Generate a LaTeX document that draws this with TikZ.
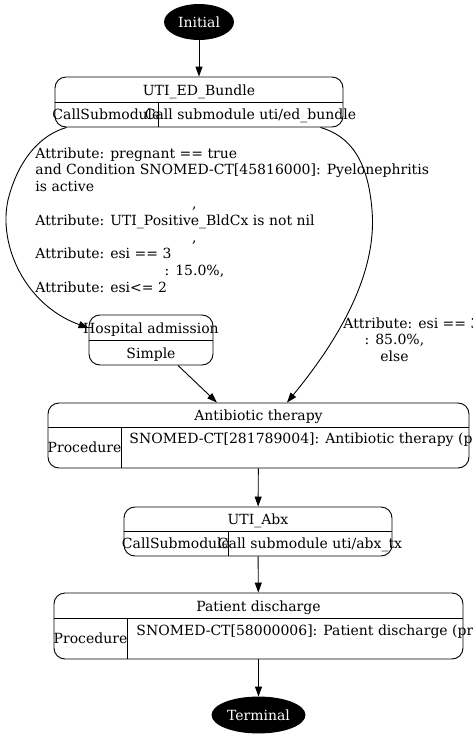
\documentclass[tikz,border=0pt]{standalone}
\usepackage{fontspec}
\setmainfont{DejaVu Serif}
\usetikzlibrary{arrows.meta}
\usetikzlibrary{shapes.geometric}

\tikzset{
  recbox/.style={draw, rounded corners=11pt, inner sep=0pt},
  endpt/.style={ellipse, draw, fill=black, text=white, inner sep=0pt},
  txt/.style={inner sep=0pt},
}

\begin{document}
\begin{tikzpicture}[x=1pt,y=1pt,yscale=-1,xscale=1,font=\fontsize{14}{16.8}\selectfont,line width=0.9pt,>={Triangle[length=10pt,width=7pt]}]
\clip (0,0) rectangle (473,737);

%Shape: Ellipse [id:init]
\node[endpt, minimum width=69, minimum height=35] (init) at (199,22) {Initial};

%Shape: Record [id:bundle]
\node[recbox, minimum width=288, minimum height=50] (bundle) at (199,102) {};
\draw (bundle.west) -- (bundle.east);
\draw (158,102) -- (158,127);
% Text Node
\node[txt, anchor=base] (bundleT) at (199,95) {UTI\_ED\_Bundle};
% Text Node
\node[txt, anchor=base] (bundleK) at (106.5,119.5) {CallSubmodule};
% Text Node
\node[txt, anchor=base] (bundleV) at (250.5,119.5) {Call submodule uti/ed\_bundle};

%Shape: Record [id:hosp]
\node[recbox, minimum width=124, minimum height=50] (hosp) at (151,340) {};
\draw (hosp.west) -- (hosp.east);
% Text Node
\node[txt, anchor=base] (hospT) at (151,333) {Hospital admission};
% Text Node
\node[txt, anchor=base] (hospK) at (151,358) {Simple};

%Shape: Record [id:anti]
\node[recbox, minimum width=421, minimum height=65] (anti) at (258.5,435.5) {};
\draw (48,427) -- (469,427);
\draw (121,427) -- (121,468);
% Text Node
\node[txt, anchor=base] (antiT) at (258.5,420) {Antibiotic therapy};
% Text Node
\node[txt, anchor=base] (antiK) at (84.5,452.5) {Procedure};
% Text Node
\node[txt, anchor=base west] (antiV) at (129,443) {SNOMED-CT[281789004]: Antibiotic therapy (procedure)};

%Shape: Record [id:abx]
\node[recbox, minimum width=268, minimum height=49] (abx) at (258,531.5) {};
\draw (abx.west) -- (abx.east);
\draw (228,531.5) -- (228,556);
% Text Node
\node[txt, anchor=base] (abxT) at (258,524.5) {UTI\_Abx};
% Text Node
\node[txt, anchor=base] (abxK) at (176,548.5) {CallSubmodule};
% Text Node
\node[txt, anchor=base] (abxV) at (310,548.5) {Call submodule uti/abx\_tx};

%Shape: Record [id:dis]
\node[recbox, minimum width=409, minimum height=66] (dis) at (258.5,626) {};
\draw (54,618) -- (463,618);
\draw (127,618) -- (127,659);
% Text Node
\node[txt, anchor=base] (disT) at (258.5,611) {Patient discharge};
% Text Node
\node[txt, anchor=base] (disK) at (90.5,643.5) {Procedure};
% Text Node
\node[txt, anchor=base west] (disV) at (136,635) {SNOMED-CT[58000006]: Patient discharge (procedure)};

%Shape: Ellipse [id:term]
\node[endpt, minimum width=93, minimum height=36] (term) at (258.5,715) {Terminal};

%Straight Lines
\draw[->] (init) -- (bundle);
\draw[->] ([xshift=27pt]hosp.south) -- ([xshift=-41.5pt]anti.north);
\draw[->] (anti) -- (abx);
\draw[->] (abx) -- (dis);
\draw[->] (dis) -- (term);

%Curve Lines
\draw[->] ([xshift=12pt]bundle.south west) .. controls (40,135) and (18,160) .. (8,200) .. controls (-2,245) and (25,305) .. ([yshift=-12pt]hosp.west);
\draw[->] ([xshift=-23pt]bundle.south east) .. controls (350,136) and (368,160) .. (372,210) .. controls (378,280) and (330,350) .. ([xshift=28.5pt]anti.north);

% Text Node
\node[txt, anchor=base west, align=left] (condL) at (35,292.4) {Attribute: pregnant == true\\and Condition SNOMED-CT[45816000]: Pyelonephritis\\is active\\\makebox[318pt]{,}\\Attribute: UTI\_Positive\_BldCx is not nil\\\makebox[318pt]{,}\\Attribute: esi == 3\\\makebox[318pt]{: 15.0\%,}\\Attribute: esi<= 2};
% Text Node
\node[txt, anchor=base west, align=left] (condR) at (343,361.6) {Attribute: esi == 3\\\makebox[102pt]{: 85.0\%,}\\\makebox[102pt]{else}};

\end{tikzpicture}
\end{document}
